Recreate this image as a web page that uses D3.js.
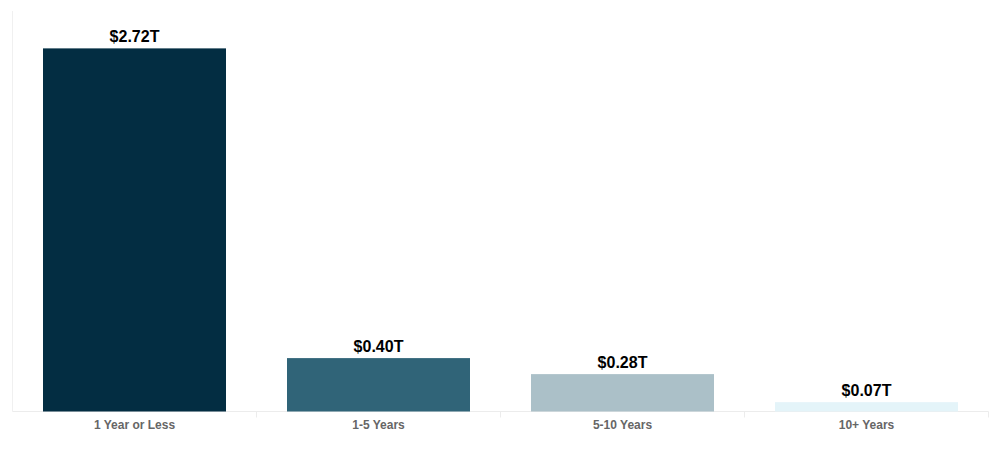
<!DOCTYPE html>
<html>
<head>
<meta charset="utf-8">
<script src="https://cdn.jsdelivr.net/npm/d3@7"></script>
<style>
    body { margin: 0; background: #fff; }
    svg { display: block; }
</style>
</head>
<body>
<div id="chart"></div>
<script>
var categories = ["1 Year or Less", "1-5 Years", "5-10 Years", "10+ Years"];
var values = [2.72, 0.40, 0.28, 0.07];
var valueLabels = ["$2.72T", "$0.40T", "$0.28T", "$0.07T"];
var barColors = ["#032d42", "#306478", "#abc0c8", "#e4f4f9"];

var width = 1000, height = 450;
// plot edges (avoid "top", it's window.top)
var plotLeft = 12.5, plotRight = 988.5, plotTop = 11, plotBottom = 411.5;

var svg = d3.select("#chart").append("svg")
    .attr("width", width)
    .attr("height", height);

var x = d3.scaleBand()
    .domain(categories)
    .range([plotLeft, plotRight])
    .paddingInner(0.25)
    .paddingOuter(0.125);

var y = d3.scaleLinear()
    .domain([0, 3])
    .range([plotBottom, plotTop]);

// left border line
svg.append("line")
    .attr("x1", plotLeft).attr("x2", plotLeft)
    .attr("y1", plotTop).attr("y2", plotBottom)
    .attr("stroke", "#f0f0f0");

// baseline
svg.append("line")
    .attr("x1", plotLeft).attr("x2", plotRight)
    .attr("y1", plotBottom).attr("y2", plotBottom)
    .attr("stroke", "#ececec");

// separators between categories
var step = x.step();
svg.selectAll(".sep")
    .data(categories)
    .enter().append("line")
    .attr("class", "sep")
    .attr("x1", function (d) { return x(d) - x.paddingInner() * step / 2 + step; })
    .attr("x2", function (d) { return x(d) - x.paddingInner() * step / 2 + step; })
    .attr("y1", plotBottom)
    .attr("y2", plotBottom + 6)
    .attr("stroke", "#ececec");

svg.selectAll(".bar")
    .data(values)
    .enter().append("rect")
    .attr("class", "bar")
    .attr("x", function (d, i) { return x(categories[i]); })
    .attr("width", x.bandwidth())
    .attr("y", function (d) { return y(d); })
    .attr("height", function (d) { return plotBottom - y(d); })
    .attr("fill", function (d, i) { return barColors[i]; });

svg.selectAll(".val")
    .data(values)
    .enter().append("text")
    .attr("class", "val")
    .attr("x", function (d, i) { return x(categories[i]) + x.bandwidth() / 2; })
    .attr("y", function (d) { return y(d) - 6; })
    .attr("text-anchor", "middle")
    .attr("font-family", "Liberation Sans, Arial, sans-serif")
    .attr("font-weight", "bold")
    .attr("font-size", "16px")
    .attr("fill", "#000")
    .text(function (d, i) { return valueLabels[i]; });

svg.selectAll(".cat")
    .data(categories)
    .enter().append("text")
    .attr("class", "cat")
    .attr("x", function (d) { return x(d) + x.bandwidth() / 2; })
    .attr("y", 428.5)
    .attr("text-anchor", "middle")
    .attr("font-family", "Liberation Sans, Arial, sans-serif")
    .attr("font-weight", "bold")
    .attr("font-size", "12px")
    .attr("fill", "#666")
    .text(function (d) { return d; });
</script>
</body>
</html>
